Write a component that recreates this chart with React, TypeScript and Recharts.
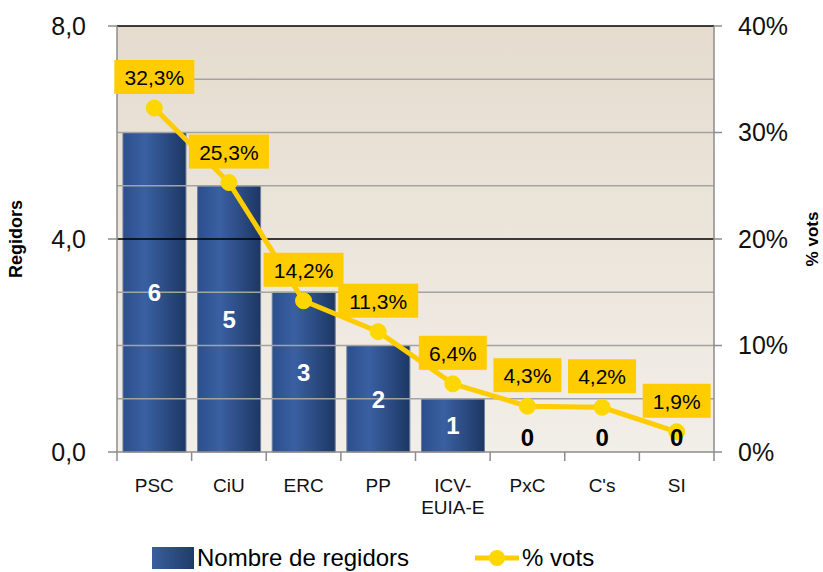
import {
  ComposedChart, Bar, Line, XAxis, YAxis, CartesianGrid, Legend,
  ReferenceLine, LabelList,
} from 'recharts';

const parties = ['PSC', 'CiU', 'ERC', 'PP', 'ICV-\nEUIA-E', 'PxC', "C's", 'SI'];
const regidors = [6, 5, 3, 2, 1, 0, 0, 0];
const vots = [32.3, 25.3, 14.2, 11.3, 6.4, 4.3, 4.2, 1.9];
const leftTicks = [0, 4, 8];
const rightTicks = [0, 10, 20, 30, 40];
const minorGrid = [1, 2, 3, 5, 6, 7];
const majorGrid = [4, 8];

const data = parties.map((p, i) => ({ party: p, regidors: regidors[i], vots: vots[i] }));

const FONT = "'Liberation Sans', Arial, sans-serif";
const W = 823;
const H = 572;
const PLOT_LEFT = 117;
const PLOT_RIGHT = 109;
const BAND = (W - PLOT_LEFT - PLOT_RIGHT) / parties.length;
const YELLOW = '#FFCC00';
const DOT = '#FFD700';

const fmtLeft = (v: number) => v.toFixed(1).replace('.', ',');
const fmtPct = (v: number) => `${v}%`;
const fmtVot = (v: number) => `${v.toFixed(1).replace('.', ',')}%`;

function PartyTick(props: any) {
  const { x, y, payload, index } = props;
  const lines = String(payload.value).split('\n');
  return (
    <g>
      <line x1={x - BAND / 2} x2={x - BAND / 2} y1={y - 8} y2={y + 1} stroke='#8c8c8c' strokeWidth={1.5} />
      {index === parties.length - 1 && (
        <line x1={x + BAND / 2} x2={x + BAND / 2} y1={y - 8} y2={y + 1} stroke='#8c8c8c' strokeWidth={1.5} />
      )}
      <text x={x} y={y + 32} textAnchor='middle' fontSize={19} fontFamily={FONT} fill='#111'>
        {lines.map((l, i) => (
          <tspan key={i} x={x} dy={i === 0 ? 0 : 22}>{l}</tspan>
        ))}
      </text>
    </g>
  );
}

// white count inside bars that have seats
function BarValue(props: any) {
  const { x, y, width, height, value } = props;
  if (!value) return null;
  return (
    <text x={x + width / 2} y={y + height / 2 + 9} textAnchor='middle' fontSize={24} fontWeight='bold' fontFamily={FONT} fill='#fff'>
      {value}
    </text>
  );
}

// black "0" just above the axis for parties without seats
function ZeroValue(props: any) {
  const { x, y, value } = props;
  if (value !== 0) return null;
  return (
    <text x={x} y={y - 6} textAnchor='middle' fontSize={24} fontWeight='bold' fontFamily={FONT} fill='#000'>
      0
    </text>
  );
}

function VotLabel(props: any) {
  const { x, y, value } = props;
  const txt = fmtVot(value);
  const w = txt.length * 12 + 20;
  const h = 34;
  const cy = y - 31;
  return (
    <g>
      <rect x={x - w / 2} y={cy - h / 2} width={w} height={h} fill={YELLOW} />
      <text x={x} y={cy + 8} textAnchor='middle' fontSize={21} fontFamily={FONT} fill='#000'>{txt}</text>
    </g>
  );
}

function LegendContent() {
  return (
    <div style={{ display: 'flex', alignItems: 'center', height: 28, paddingLeft: 152, fontFamily: FONT, fontSize: 24, color: '#000' }}>
      <span style={{ display: 'inline-block', width: 42, height: 22, background: 'linear-gradient(90deg,#3a5f9e,#1f3b68)', marginRight: 3 }} />
      <span style={{ marginRight: 66 }}>Nombre de regidors</span>
      <svg width={44} height={22} style={{ marginRight: 3 }}>
        <line x1={0} x2={44} y1={11} y2={11} stroke={YELLOW} strokeWidth={5} />
        <circle cx={22} cy={11} r={8} fill={DOT} />
      </svg>
      <span>% vots</span>
    </div>
  );
}

export default function App() {
  return (
    <div style={{ position: 'absolute', left: 0, top: 0, width: W, height: H, background: '#fff' }}>
      <ComposedChart width={W} height={H} data={data} margin={{ top: 26, right: 0, bottom: 0, left: 0 }} barCategoryGap='8%'>
        <defs>
          <linearGradient id='plotBg' x1='0' y1='0' x2='0' y2='1'>
            <stop offset='0%' stopColor='#E5DCCE' />
            <stop offset='100%' stopColor='#F2EEE8' />
          </linearGradient>
          <linearGradient id='barFill' x1='0' y1='0' x2='1' y2='0'>
            <stop offset='0%' stopColor='#2c4f8c' />
            <stop offset='35%' stopColor='#3a60a2' />
            <stop offset='100%' stopColor='#1d3764' />
          </linearGradient>
        </defs>
        <CartesianGrid horizontal={false} vertical={false} fill='url(#plotBg)' fillOpacity={1} />
        {minorGrid.map(v => (
          <ReferenceLine key={v} yAxisId='left' y={v} stroke='#a3a3a3' strokeWidth={1.5} />
        ))}
        {majorGrid.map(v => (
          <ReferenceLine key={`m${v}`} yAxisId='left' y={v} stroke='#000' strokeWidth={1.5} />
        ))}
        <XAxis
          dataKey='party'
          height={92}
          interval={0}
          tickLine={false}
          axisLine={{ stroke: '#8c8c8c', strokeWidth: 1.5 }}
          tick={<PartyTick />}
        />
        <YAxis
          yAxisId='left'
          width={PLOT_LEFT}
          domain={[0, 8]}
          ticks={leftTicks}
          tickFormatter={fmtLeft}
          axisLine={{ stroke: '#8c8c8c', strokeWidth: 1.5 }}
          tickLine={{ stroke: '#8c8c8c', strokeWidth: 1.5 }}
          tickSize={9}
          tickMargin={22}
          tick={{ fontSize: 25, fill: '#111', fontFamily: FONT }}
          label={({ viewBox }: any) => (
            <text
              x={viewBox.x + 16}
              y={viewBox.y + viewBox.height / 2}
              transform={`rotate(-90 ${viewBox.x + 16} ${viewBox.y + viewBox.height / 2})`}
              textAnchor='middle'
              dominantBaseline='central'
              fontSize={18}
              fontWeight='bold'
              fontFamily={FONT}
              fill='#000'
            >
              Regidors
            </text>
          )}
        />
        <YAxis
          yAxisId='right'
          orientation='right'
          width={PLOT_RIGHT}
          domain={[0, 40]}
          ticks={rightTicks}
          tickFormatter={fmtPct}
          axisLine={{ stroke: '#8c8c8c', strokeWidth: 1.5 }}
          tickLine={{ stroke: '#8c8c8c', strokeWidth: 1.5 }}
          tickSize={8}
          tickMargin={16}
          tick={{ fontSize: 25, fill: '#111', fontFamily: FONT }}
          label={({ viewBox }: any) => (
            <text
              x={viewBox.x + 98}
              y={viewBox.y + viewBox.height / 2}
              transform={`rotate(-90 ${viewBox.x + 98} ${viewBox.y + viewBox.height / 2})`}
              textAnchor='middle'
              dominantBaseline='central'
              fontSize={17}
              fontWeight='bold'
              fontFamily={FONT}
              fill='#000'
            >
              % vots
            </text>
          )}
        />
        <Legend verticalAlign='bottom' height={28} content={<LegendContent />} />
        <Bar yAxisId='left' dataKey='regidors' name='Nombre de regidors' fill='url(#barFill)' stroke='#6f7f99' strokeWidth={1} isAnimationActive={false}>
          <LabelList dataKey='regidors' content={<BarValue />} />
        </Bar>
        <Line
          yAxisId='right'
          dataKey='vots'
          name='% vots'
          type='linear'
          stroke={YELLOW}
          strokeWidth={5}
          dot={{ r: 8, fill: DOT, stroke: DOT, strokeWidth: 1 }}
          activeDot={false}
          isAnimationActive={false}
        >
          <LabelList dataKey='vots' content={<VotLabel />} />
        </Line>
        <Line
          yAxisId='left'
          dataKey='regidors'
          legendType='none'
          stroke='none'
          dot={false}
          activeDot={false}
          isAnimationActive={false}
        >
          <LabelList dataKey='regidors' content={<ZeroValue />} />
        </Line>
      </ComposedChart>
    </div>
  );
}
